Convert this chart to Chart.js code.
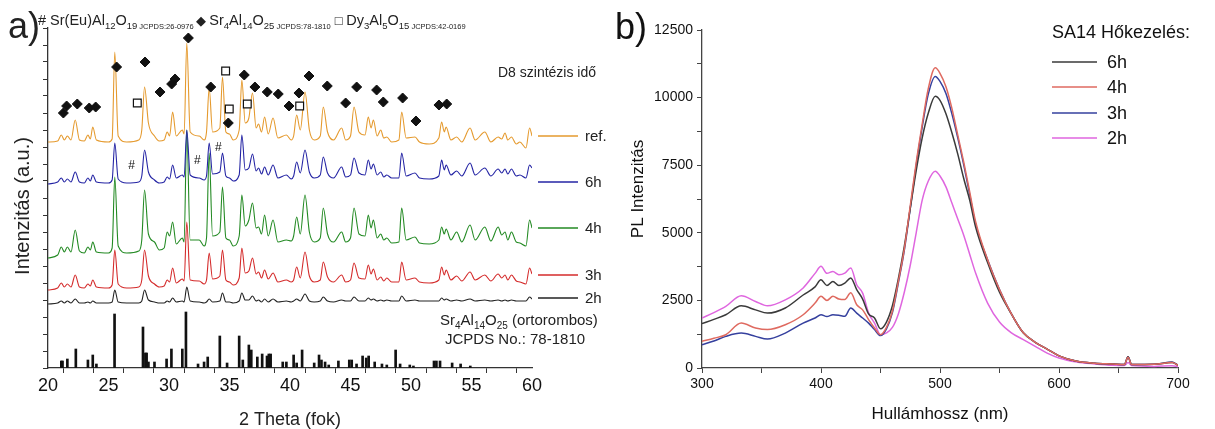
<!DOCTYPE html>
<html>
<head>
<meta charset="utf-8">
<script src="https://cdn.jsdelivr.net/npm/chart.js@4.4.1/dist/chart.umd.min.js"></script>
<style>
  body { margin: 0; background: #fff; }
  #wrap { position: relative; width: 1215px; height: 429px; }
  #xrdBox { position: absolute; left: 0; top: 0; width: 610px; height: 429px; }
  #plBox { position: absolute; left: 610px; top: 0; width: 605px; height: 429px; }
</style>
</head>
<body>
<div id="wrap">
  <div id="xrdBox"><canvas id="xrdChart" width="610" height="429"></canvas></div>
  <div id="plBox"><canvas id="plChart" width="605" height="429"></canvas></div>
</div>
<script>
const FONT = "'Liberation Sans', Arial, Helvetica, sans-serif";

// ---------- a) XRD patterns (stacked, arbitrary units) ----------
const theta = [
  20.0, 20.8, 21.1, 21.35, 21.6, 21.9, 22.25, 22.6, 23.0, 23.3,
  23.5, 23.7, 24.0, 25.0, 25.3, 25.52, 25.8, 26.5, 27.5, 27.75,
  27.98, 28.3, 28.8, 29.2, 29.6, 29.85, 30.05, 30.3, 30.6, 31.1,
  31.25, 31.47, 31.75, 32.5, 32.9, 33.1, 33.32, 33.6, 34.2, 34.42,
  34.7, 35.0, 35.3, 35.8, 36.02, 36.3, 36.6, 36.9, 37.2, 37.4,
  37.65, 37.9, 38.2, 38.6, 39.0, 39.7, 40.1, 40.3, 40.55, 40.85,
  41.24, 41.6, 42.0, 42.5, 42.75, 43.1, 43.6, 44.27, 44.6, 45.0,
  45.29, 45.7, 46.2, 46.47, 46.7, 46.89, 47.2, 47.5, 47.75, 48.0,
  48.4, 49.0, 49.23, 49.6, 50.33, 50.7, 51.5, 52.3, 52.53, 52.75,
  52.9, 53.3, 53.77, 54.2, 54.88, 55.3, 56.1, 56.6, 57.2, 57.5,
  57.77, 58.0, 58.3, 58.7, 59.0, 59.5, 59.8, 60.0
];
const refY = [
  226, 227, 233, 228, 232, 228, 248, 228, 227, 233,
  229, 241, 228, 226, 229, 316, 232, 226, 228, 238,
  281, 245, 232, 227, 228, 236, 232, 256, 232, 238,
  234, 325, 236, 232, 228, 236, 280, 236, 240, 291,
  236, 234, 228, 238, 288, 245, 250, 275, 240, 244,
  236, 251, 234, 250, 230, 233, 228, 232, 253, 238,
  276, 238, 228, 232, 261, 236, 228, 240, 228, 232,
  261, 236, 233, 251, 240, 248, 232, 238, 230, 231,
  226, 228, 256, 230, 231, 226, 224, 230, 246, 236,
  241, 228, 231, 226, 240, 228, 236, 226, 231, 229,
  235, 228, 231, 224, 226, 220, 240, 232
];
const h6Y = [
  184, 186, 190, 186, 189, 186, 196, 186, 185, 190,
  187, 193, 186, 185, 188, 225, 189, 185, 186, 192,
  218, 196, 188, 185, 186, 191, 189, 203, 190, 193,
  191, 238, 193, 190, 188, 192, 225, 194, 196, 215,
  192, 190, 187, 193, 233, 198, 200, 214, 197, 200,
  194, 201, 193, 203, 190, 193, 189, 192, 206, 195,
  218, 196, 190, 193, 211, 195, 190, 201, 191, 193,
  210, 195, 193, 208, 199, 204, 193, 196, 191, 193,
  190, 190, 215, 192, 195, 190, 189, 192, 208, 198,
  203, 193, 197, 192, 205, 193, 200, 192, 199, 195,
  199, 194, 199, 192, 193, 190, 203, 200
];
const h4Y = [
  110, 113, 121, 116, 121, 116, 138, 117, 115, 121,
  118, 126, 116, 115, 120, 191, 122, 115, 117, 128,
  178, 134, 126, 118, 120, 136, 132, 146, 124, 130,
  126, 238, 128, 128, 122, 130, 215, 132, 136, 181,
  130, 128, 122, 132, 173, 142, 148, 165, 140, 141,
  134, 153, 132, 148, 126, 128, 127, 132, 151, 134,
  173, 136, 126, 130, 160, 134, 126, 136, 126, 130,
  160, 134, 132, 153, 140, 148, 130, 134, 128, 130,
  125, 126, 160, 128, 131, 125, 124, 128, 141, 134,
  139, 128, 136, 126, 143, 128, 141, 127, 141, 133,
  136, 128, 136, 126, 125, 122, 148, 140
];
const h3Y = [
  78, 80, 85, 81, 84, 81, 93, 81, 80, 84,
  82, 88, 81, 80, 83, 118, 84, 80, 81, 88,
  118, 92, 84, 81, 82, 88, 86, 100, 85, 89,
  87, 146, 88, 87, 84, 88, 115, 89, 92, 118,
  88, 86, 83, 90, 120, 95, 97, 110, 94, 96,
  90, 98, 89, 95, 86, 88, 86, 88, 101, 90,
  116, 92, 86, 88, 106, 91, 86, 93, 86, 88,
  105, 90, 89, 103, 94, 99, 88, 91, 87, 90,
  86, 86, 106, 88, 90, 86, 85, 88, 101, 93,
  98, 88, 92, 87, 96, 88, 93, 87, 94, 90,
  93, 88, 93, 87, 86, 84, 100, 94
];
const h2Y = [
  64, 65, 67, 65, 67, 65, 69, 65, 65, 66,
  65, 67, 65, 65, 66, 78, 66, 65, 65, 67,
  78, 68, 66, 65, 65, 67, 66, 70, 66, 67,
  66, 81, 67, 66, 65, 66, 69, 66, 67, 75,
  66, 66, 65, 67, 75, 68, 68, 72, 67, 68,
  66, 69, 66, 69, 66, 67, 66, 67, 69, 67,
  74, 67, 66, 67, 71, 67, 66, 68, 67, 67,
  71, 67, 67, 70, 68, 69, 67, 68, 67, 68,
  67, 67, 72, 67, 68, 67, 67, 67, 70, 68,
  69, 67, 68, 67, 69, 67, 68, 67, 68, 67,
  68, 67, 68, 67, 67, 67, 71, 69
];
// JCPDS 78-1810 reference lines
const stickTheta = [
  21.1, 21.2, 21.6, 22.3, 23.3, 23.7, 24.0, 25.5, 27.85, 28.05,
  28.15, 28.3, 28.8, 29.8, 30.2, 31.1, 31.4, 32.4, 32.9, 33.2,
  34.2, 34.8, 35.8, 36.1, 36.6, 36.8, 37.3, 37.7, 38.1, 38.25,
  38.4, 39.4, 39.7, 40.3, 40.55, 41.0, 42.0, 42.4, 42.6, 42.9,
  43.2, 44.0, 44.9, 45.1, 45.5, 46.0, 46.3, 46.5, 47.0, 47.6,
  48.0, 48.73, 49.1, 49.9, 50.2, 51.9, 52.1, 52.4, 53.4, 54.1,
  54.9
];
const stickInt = [
  7, 7, 9, 19, 8, 13, 4, 54, 41, 15,
  15, 6, 6, 9, 19, 19, 56, 4, 6, 11,
  32, 5, 32, 8, 23, 18, 11, 14, 12, 14,
  14, 6, 6, 13, 5, 18, 5, 13, 8, 6,
  3, 7, 8, 8, 4, 12, 10, 12, 6, 4,
  3, 18, 4, 3, 2, 7, 7, 7, 5, 4,
  2
];
// phase markers
const diamondTheta = [21.27, 21.54, 22.42, 23.41, 23.94, 25.67, 28.02, 29.26, 30.22, 30.5,
  31.6, 33.45, 34.9, 36.22, 37.1, 38.12, 39.03, 39.92, 40.74, 41.57,
  43.08, 44.6, 45.51, 47.16, 47.71, 49.31, 50.41, 52.31, 52.95];
const diamondY = [255, 262, 264, 260, 261, 301, 306, 276, 284, 289,
  330, 281, 245, 293, 281, 276, 274, 262, 275, 292,
  282, 265, 281, 278, 266, 270, 247, 263, 264];
const squareTheta = [27.38, 34.68, 34.98, 36.47, 40.8];
const squareY = [265, 297, 259, 264, 262];
const hashTheta = [26.9, 32.34, 34.07];
const hashY = [202, 207, 220];

const xrdNames = ['ref.', '6h', '4h', '3h', '2h'];
const xrdColors = ['#e59a2e', '#2424a4', '#238a23', '#d42b2b', '#222222'];
const xrdTagY = [232, 186, 140, 93, 70];

// ---------- b) PL spectra ----------
const wave = [
  300, 310, 320, 333, 345, 355, 370, 385, 395, 400,
  405, 410, 415, 420, 425, 430, 435, 440, 445, 450,
  455, 460, 465, 470, 475, 480, 485, 490, 496, 500,
  505, 510, 515, 520, 525, 530, 540, 550, 560, 570,
  580, 590, 600, 615, 630, 645, 655, 658, 661, 680,
  695, 700
];
const pl6h = [
  1640, 1800, 1970, 2300, 2150, 2030, 2220, 2700, 3000, 3260,
  3050, 3200, 3050, 3140, 3330, 2900, 2550, 2000, 1850, 1450,
  1700, 2300, 3300, 4500, 5900, 7300, 8500, 9400, 10050, 9900,
  9400, 8700, 7900, 7000, 6200, 5200, 3900, 2800, 2000, 1300,
  950, 700, 450, 250, 180, 150, 130, 420, 130, 140,
  200, 100
];
const pl4h = [
  985, 1100, 1230, 1660, 1480, 1420, 1600, 1970, 2400, 2650,
  2500, 2650, 2550, 2530, 2780, 2340, 2150, 1790, 1480, 1230,
  1500, 2100, 3200, 4400, 6000, 7600, 9000, 10300, 11100, 10900,
  10400, 9600, 8600, 7600, 6500, 5400, 4000, 2900, 2000, 1300,
  950, 700, 450, 250, 180, 150, 130, 400, 130, 140,
  200, 100
];
const pl3h = [
  860, 1000, 1170, 1290, 1170, 1070, 1290, 1660, 1850, 1970,
  1900, 1970, 1950, 1910, 2220, 2030, 1850, 1660, 1420, 1200,
  1450, 2050, 3150, 4350, 5900, 7500, 8900, 10100, 10780, 10600,
  10150, 9400, 8500, 7500, 6400, 5300, 4000, 2900, 2000, 1300,
  950, 700, 450, 250, 180, 150, 130, 420, 130, 140,
  220, 100
];
const pl2h = [
  1850, 2050, 2280, 2670, 2460, 2300, 2520, 2960, 3500, 3760,
  3500, 3570, 3450, 3510, 3700, 3080, 2770, 2030, 1660, 1230,
  1300, 1500, 2000, 2800, 3800, 5000, 6200, 6900, 7280, 7100,
  6700, 6100, 5500, 4900, 4200, 3500, 2400, 1700, 1300, 1050,
  800, 550, 370, 220, 150, 100, 90, 200, 90, 60,
  80, 50
];
const plNames = ['6h', '4h', '3h', '2h'];
const plColors = ['#3a3a3a', '#df6a60', '#35409e', '#df66df'];

const pts = (xs, ys) => xs.map((v, i) => ({ x: v, y: ys[i] }));

function richText(ctx, x, y, parts) {
  let cx = x;
  parts.forEach(([t, size, dy]) => {
    ctx.font = size + 'px ' + FONT;
    ctx.fillText(t, cx, y + dy);
    cx += ctx.measureText(t).width;
  });
}

function axisStyle(color, step, labelEvery, fontSize, pad) {
  return {
    grid: { display: true, drawOnChartArea: false, drawTicks: true, tickLength: 5, color: color, lineWidth: 1 },
    border: { display: true, color: color, width: 1.3 },
    ticks: {
      stepSize: step, autoSkip: false, maxRotation: 0, padding: pad,
      color: '#111', font: { family: FONT, size: fontSize },
      callback: v => (labelEvery && Math.abs(v % labelEvery) < 1e-6) ? v : ''
    }
  };
}

// ---------- chart a ----------
const xrdDecor = {
  id: 'xrdDecor',
  afterDraw(chart) {
    const { ctx, chartArea: a, scales: { x, y } } = chart;
    ctx.save();
    ctx.fillStyle = '#111';
    ctx.textBaseline = 'middle';
    ctx.textAlign = 'center';
    ctx.font = '12px ' + FONT;
    hashTheta.forEach((t, i) => ctx.fillText('#', x.getPixelForValue(t), y.getPixelForValue(hashY[i])));

    // trace tags on the right
    ctx.textAlign = 'left';
    ctx.font = '15px ' + FONT;
    xrdNames.forEach((n, i) => {
      const yy = y.getPixelForValue(xrdTagY[i]);
      ctx.strokeStyle = xrdColors[i];
      ctx.lineWidth = 1.3;
      ctx.beginPath();
      ctx.moveTo(a.right + 6, yy);
      ctx.lineTo(a.right + 46, yy);
      ctx.stroke();
      ctx.fillStyle = '#222';
      ctx.fillText(n, a.right + 53, yy + 1);
    });
    ctx.font = '14px ' + FONT;
    ctx.fillText('D8 szintézis idő', 498, 73);

    // reference card label
    ctx.textBaseline = 'alphabetic';
    richText(ctx, 440, 325, [['Sr', 15, 0], ['4', 10, 4], ['Al', 15, 0], ['14', 10, 4], ['O', 15, 0], ['25', 10, 4], [' (ortorombos)', 15, 0]]);
    ctx.font = '15px ' + FONT;
    ctx.fillText('JCPDS No.: 78-1810', 445, 344);

    // phase key line on top
    richText(ctx, 38, 25, [
      ['# Sr(Eu)Al', 14.5, 0], ['12', 9.5, 4], ['O', 14.5, 0], ['19', 9.5, 4], [' JCPDS:26-0976 ', 7.5, 4],
      ['\u25C6 ', 13, 0], ['Sr', 14.5, 0], ['4', 9.5, 4], ['Al', 14.5, 0], ['14', 9.5, 4], ['O', 14.5, 0], ['25', 9.5, 4],
      [' JCPDS:78-1810  ', 7.5, 4],
      ['\u25A1 ', 13, 0], ['Dy', 14.5, 0], ['3', 9.5, 4], ['Al', 14.5, 0], ['5', 9.5, 4], ['O', 14.5, 0], ['15', 9.5, 4],
      [' JCPDS:42-0169', 7.5, 4]
    ]);
    ctx.font = '36px ' + FONT;
    ctx.fillText('a)', 8, 38);

    // axis titles
    ctx.textAlign = 'center';
    ctx.textBaseline = 'middle';
    ctx.font = '18px ' + FONT;
    ctx.fillText('2 Theta (fok)', (a.left + a.right) / 2, 420);
    ctx.translate(23, 206);
    ctx.rotate(-Math.PI / 2);
    ctx.font = '20px ' + FONT;
    ctx.fillText('Intenzitás (a.u.)', 0, 0);
    ctx.restore();
  }
};

const traceSet = (label, ys, color) => ({
  type: 'line', label, data: pts(theta, ys), borderColor: color, borderWidth: 1.1,
  pointRadius: 0, cubicInterpolationMode: 'monotone', fill: false, order: 3
});

const xAxisA = axisStyle('#333', 2.5, 5, 18, 2);
xAxisA.type = 'linear'; xAxisA.min = 20; xAxisA.max = 60; xAxisA.offset = false;
xAxisA.afterFit = s => { s.height = 61; };
const yAxisA = axisStyle('#333', 17, 0, 10, 0);
yAxisA.min = 0; yAxisA.max = 340; yAxisA.ticks.display = false;
yAxisA.afterFit = s => { s.width = 48; };

new Chart(document.getElementById('xrdChart'), {
  type: 'line',
  data: {
    datasets: [
      traceSet('ref.', refY, xrdColors[0]),
      traceSet('6h', h6Y, xrdColors[1]),
      traceSet('4h', h4Y, xrdColors[2]),
      traceSet('3h', h3Y, xrdColors[3]),
      traceSet('2h', h2Y, xrdColors[4]),
      { type: 'bar', label: 'JCPDS 78-1810', data: pts(stickTheta, stickInt), backgroundColor: '#111',
        barThickness: 2, grouped: false, order: 2 },
      { type: 'line', label: 'Sr4Al14O25', data: pts(diamondTheta, diamondY), showLine: false,
        pointStyle: 'rectRot', pointRadius: 5, backgroundColor: '#111', borderColor: '#111', borderWidth: 1, order: 1 },
      { type: 'line', label: 'Dy3Al5O15', data: pts(squareTheta, squareY), showLine: false,
        pointStyle: 'rect', pointRadius: 5.5, backgroundColor: '#fff', borderColor: '#111', borderWidth: 1.2, order: 1 }
    ]
  },
  options: {
    responsive: false, animation: false, devicePixelRatio: 1,
    layout: { padding: { left: 0, top: 28, right: 78, bottom: 0 } },
    plugins: { legend: { display: false }, tooltip: { enabled: false } },
    scales: { x: xAxisA, y: yAxisA }
  },
  plugins: [xrdDecor]
});

// ---------- chart b ----------
const plDecor = {
  id: 'plDecor',
  afterDraw(chart) {
    const { ctx, chartArea: a } = chart;
    ctx.save();
    ctx.fillStyle = '#111';
    ctx.textBaseline = 'alphabetic';
    ctx.font = '36px ' + FONT;
    ctx.fillText('b)', 5, 39);

    ctx.textBaseline = 'middle';
    ctx.font = '18px ' + FONT;
    ctx.fillText('SA14 Hőkezelés:', 442, 33);
    const rows = [62, 87, 113, 138];
    plNames.forEach((n, i) => {
      ctx.strokeStyle = plColors[i];
      ctx.lineWidth = 1.6;
      ctx.beginPath();
      ctx.moveTo(442, rows[i]);
      ctx.lineTo(487, rows[i]);
      ctx.stroke();
      ctx.fillText(n, 497, rows[i] + 1);
    });

    ctx.textAlign = 'center';
    ctx.font = '17px ' + FONT;
    ctx.fillText('Hullámhossz (nm)', (a.left + a.right) / 2, 414);
    ctx.translate(28, 189);
    ctx.rotate(-Math.PI / 2);
    ctx.fillText('PL Intenzitás', 0, 0);
    ctx.restore();
  }
};

const plSet = (idx, ys) => ({
  label: plNames[idx], data: pts(wave, ys), borderColor: plColors[idx], borderWidth: 1.5,
  pointRadius: 0, cubicInterpolationMode: 'monotone', fill: false
});

const xAxisB = axisStyle('#444', 50, 100, 14, 3);
xAxisB.type = 'linear'; xAxisB.min = 300; xAxisB.max = 700; xAxisB.offset = false;
xAxisB.afterFit = s => { s.height = 61; };
const yAxisB = axisStyle('#444', 1250, 2500, 14, 4);
yAxisB.min = 0; yAxisB.max = 12500;
yAxisB.afterFit = s => { s.width = 92; };

new Chart(document.getElementById('plChart'), {
  type: 'line',
  data: {
    datasets: [plSet(1, pl4h), plSet(0, pl6h), plSet(2, pl3h), plSet(3, pl2h)]
  },
  options: {
    responsive: false, animation: false, devicePixelRatio: 1,
    layout: { padding: { left: 0, top: 30, right: 37, bottom: 0 } },
    plugins: { legend: { display: false }, tooltip: { enabled: false } },
    scales: { x: xAxisB, y: yAxisB }
  },
  plugins: [plDecor]
});
</script>
</body>
</html>
